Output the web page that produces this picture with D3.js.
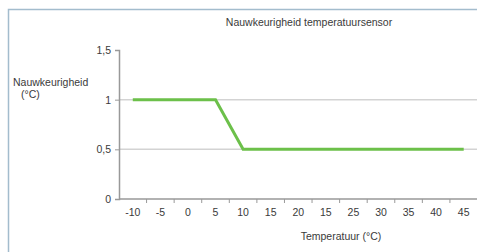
<!DOCTYPE html>
<html>
<head>
<meta charset="utf-8">
<script src="https://cdn.jsdelivr.net/npm/d3@7"></script>
<style>
  body { margin: 0; background: #fff; }
  text { font-family: "Liberation Sans", Arial, sans-serif; fill: #3a3a3a; }
</style>
</head>
<body>
<div id="chart"></div>
<script>
// categories as printed on the axis (the original repeats "15")
const categories = ["-10", "-5", "0", "5", "10", "15", "20", "15", "25", "30", "35", "40", "45"];
// accuracy line, indexed by category
const lineCats = [0, 3, 4, 12];
const lineValues = [1, 1, 0.5, 0.5];
const yTicks = [0, 0.5, 1, 1.5];
const gridValues = [0.5, 1];

const width = 477,
      height = 252;
const margin = {left: 119, right: 0, top: 50, bottom: 53};

const svg = d3.select("#chart")
  .append("svg")
    .attr("width", width)
    .attr("height", height);

// frame
svg.append("path")
  .attr("d", `M8.5,${height} V9.5 H${width}`)
  .attr("fill", "none")
  .attr("stroke", "#a3bccd")
  .attr("stroke-width", 1.5);

const x = d3.scaleBand()
  .domain(d3.range(categories.length))
  .range([margin.left, width - margin.right + 0.5]);

const y = d3.scaleLinear()
  .domain([0, 1.5])
  .range([height - margin.bottom, margin.top]);

// gridlines
svg.append("g")
  .selectAll("line")
  .data(gridValues)
  .join("line")
    .attr("x1", margin.left)
    .attr("x2", width)
    .attr("y1", d => y(d))
    .attr("y2", d => y(d))
    .attr("stroke", "#d3d3d3")
    .attr("stroke-width", 1.5);

// y axis
const yAxis = svg.append("g")
  .attr("transform", `translate(${margin.left},0)`)
  .call(d3.axisLeft(y).tickValues(yTicks).tickSize(4).tickPadding(4)
    .tickFormat(d => String(d).replace(".", ",")));

// x axis: ticks between categories
const xAxis = svg.append("g")
  .attr("transform", `translate(0,${y(0)})`);
xAxis.append("line")
  .attr("x1", margin.left).attr("x2", width)
  .attr("stroke", "#999").attr("stroke-width", 1.5);
xAxis.selectAll(".tk")
  .data(d3.range(1, categories.length))
  .join("line")
    .attr("class", "tk")
    .attr("x1", d => x(d)).attr("x2", d => x(d))
    .attr("y1", 0).attr("y2", 4)
    .attr("stroke", "#999");
xAxis.selectAll("text")
  .data(categories)
  .join("text")
    .attr("x", (d, i) => x(i) + x.bandwidth() / 2)
    .attr("y", 17)
    .attr("text-anchor", "middle")
    .attr("font-size", 10.5)
    .text(d => d);

yAxis.select(".domain").attr("stroke", "#999").attr("stroke-width", 1.5);
yAxis.selectAll(".tick line").attr("stroke", "#999");
yAxis.selectAll(".tick text").attr("font-size", 10.5).attr("fill", "#3a3a3a")
  .attr("font-family", "Liberation Sans, Arial, sans-serif");

// line
const line = d3.line()
  .x(d => x(d[0]) + x.bandwidth() / 2)
  .y(d => y(d[1]));

svg.append("path")
  .datum(lineCats.map((c, i) => [c, lineValues[i]]))
  .attr("d", line)
  .attr("fill", "none")
  .attr("stroke", "#6cc04a")
  .attr("stroke-width", 3);

// titles
svg.append("text")
  .attr("x", 309).attr("y", 26)
  .attr("text-anchor", "middle")
  .attr("font-size", 10.5)
  .text("Nauwkeurigheid temperatuursensor");

svg.append("text")
  .attr("x", 13).attr("y", 86)
  .attr("font-size", 10.5)
  .text("Nauwkeurigheid");
svg.append("text")
  .attr("x", 21).attr("y", 98)
  .attr("font-size", 10.5)
  .text("(°C)");

svg.append("text")
  .attr("x", 341).attr("y", 240)
  .attr("text-anchor", "middle")
  .attr("font-size", 10.5)
  .text("Temperatuur (°C)");
</script>
</body>
</html>
